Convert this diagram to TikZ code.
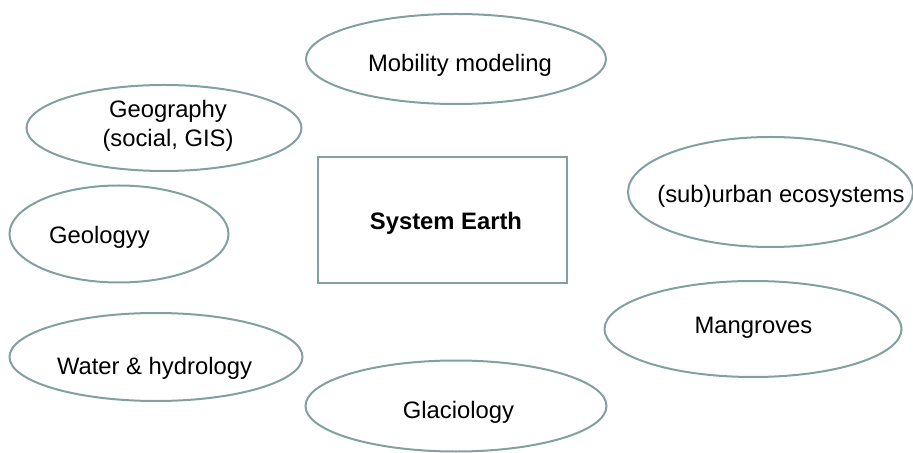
\documentclass[tikz,border=0pt]{standalone}
\usepackage{fontspec}
\setmainfont{Liberation Sans}
\usetikzlibrary{shapes.geometric}

\begin{document}
\begin{tikzpicture}[x=0.5pt,y=-0.5pt,
  field/.style={ellipse, draw=gris_azul, line width=1pt, inner sep=0pt},
  earth/.style={rectangle, draw=gris_azul, line width=1pt, minimum width=124.5pt, minimum height=63pt},
  tag/.style={inner sep=0pt, align=center}]

    \definecolor{gris_azul}{RGB}{130,160,160}

  \useasboundingbox (0,0) rectangle (913,453);
  \fontsize{11.9}{14.5}\selectfont

  % Central topic

  \node [earth] (earth) at (442.5,220) {};
  \node [tag, font=\bfseries] (earth_txt) at (446,223) {System Earth};

  % Research fields around it

  \node [field, minimum width=150pt, minimum height=45pt] (mobility) at (456,59) {};
  \node [field, minimum width=137.5pt, minimum height=43pt] (geography) at (164,128) {};
  \node [field, minimum width=109.5pt, minimum height=48.5pt] (geology) at (119,234) {};
  \node [field, minimum width=146.5pt, minimum height=44pt] (water) at (156,357) {};
  \node [field, minimum width=150.5pt, minimum height=45.5pt] (glacio) at (456,406) {};
  \node [field, minimum width=142.5pt, minimum height=55pt] (urban) at (770.5,192) {};
  \node [field, minimum width=148.5pt, minimum height=48pt] (mangroves) at (753,329) {};

  % Their names

  \node [tag] (mobility_txt) at (460,65) {Mobility modeling};
  \node [tag] (geography_txt) at (168,126) {Geography\\(social, GIS)};
  \node [tag] (geology_txt) at (99.5,237) {Geologyy};
  \node [tag] (water_txt) at (154.5,368) {Water \& hydrology};
  \node [tag] (glacio_txt) at (458.5,412) {Glaciology};
  \node [tag] (urban_txt) at (781,196) {(sub)urban ecosystems};
  \node [tag] (mangroves_txt) at (753.5,328) {Mangroves};

\end{tikzpicture}
\end{document}
